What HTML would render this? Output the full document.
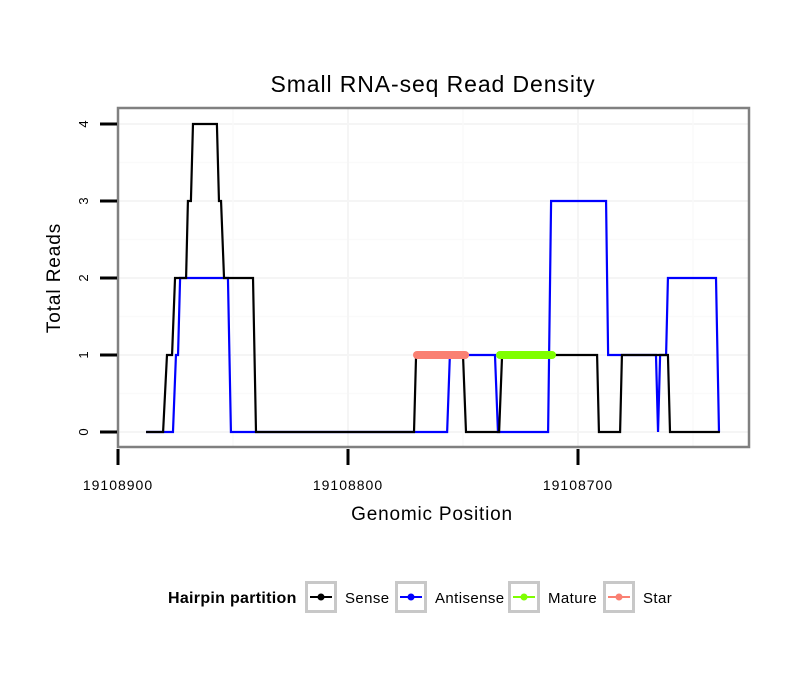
<!DOCTYPE html>
<html><head><meta charset="utf-8"><style>
body{margin:0;background:#fff}
text{font-family:"Liberation Sans",sans-serif}
</style></head><body>
<svg id="c" width="810" height="690" xmlns="http://www.w3.org/2000/svg">
<rect width="810" height="690" fill="#fff"/>
<text x="433" y="92" font-size="23" letter-spacing="0.9" text-anchor="middle">Small RNA-seq Read Density</text>
<g id="grid"></g>
<g id="plot"></g>
<rect x="118" y="108" width="631" height="339" fill="none" stroke="#808080" stroke-width="2.5"/>
<g id="axes"></g>
<text x="432" y="520" font-size="19" letter-spacing="0.8" text-anchor="middle">Genomic Position</text>
<text transform="translate(60,278) rotate(-90)" font-size="19" letter-spacing="0.9" text-anchor="middle">Total Reads</text>
<g>
<text x="168" y="603" font-size="16" font-weight="bold" letter-spacing="0.3">Hairpin partition</text>
<g id="legend"></g>
</g>
</svg>
<script>
const xTicks=[19108900,19108800,19108700];
const xTickLabels=["19108900","19108800","19108700"];
const yTicks=[0,1,2,3,4];
const senseX=[19108887.8,19108880.4,19108878.7,19108876.5,19108875.2,19108870.4,19108869.6,19108868.3,19108867.4,19108857.0,19108856.1,19108855.2,19108853.9,19108841.3,19108840.0,19108771.3,19108770.4,19108750.0,19108748.7,19108734.3,19108733.0,19108691.7,19108690.9,19108681.7,19108680.9,19108660.9,19108660.0,19108638.3];
const senseY=[0,0,1,1,2,2,3,3,4,4,3,3,2,2,0,0,1,1,0,0,1,1,0,0,1,1,0,0];
const antiX=[19108887.8,19108876.1,19108874.8,19108873.9,19108873.0,19108852.2,19108850.9,19108756.9,19108755.7,19108736.1,19108734.8,19108713.0,19108711.7,19108687.8,19108686.9,19108666.1,19108665.2,19108664.3,19108661.7,19108660.9,19108640.0,19108638.7];
const antiY=[0,0,1,1,2,2,0,0,1,1,0,0,3,3,1,1,0,1,1,2,2,0];
const starX=[19108770.0,19108749.1];const starY=[1,1];
const matureX=[19108733.9,19108711.3];const matureY=[1,1];
const legendLabels=["Sense","Antisense","Mature","Star"];
const legendColors=["#000","#0000ff","#7fff00","#fa8072"];
const NS="http://www.w3.org/2000/svg";
const X=v=>118+(19108900-v)*2.3;
const Y=v=>432-v*77;
function mk(t,a,p){const e=document.createElementNS(NS,t);for(const k in a)e.setAttribute(k,a[k]);p.appendChild(e);return e;}
const grid=document.getElementById('grid'),plot=document.getElementById('plot'),axes=document.getElementById('axes');
for(let i=0;i<yTicks.length;i++){
  const g=mk('line',{x1:118,x2:749,y1:Y(yTicks[i]),y2:Y(yTicks[i]),stroke:'#f5f5f5','stroke-width':2},grid);
  
  
  if(i<yTicks.length-1){const m=mk('line',{x1:118,x2:749,y1:Y(yTicks[i]+0.5),y2:Y(yTicks[i]+0.5),stroke:'#fafafa','stroke-width':1.5},grid);
  
  }
  const t=mk('line',{x1:100,x2:117,y1:Y(yTicks[i]),y2:Y(yTicks[i]),stroke:'#000','stroke-width':3},axes);
  
  
  const l=mk('text',{x:0,y:0,'font-size':13,'text-anchor':'middle',transform:`translate(88,${Y(yTicks[i])}) rotate(-90)`},axes);
  
  
  l.textContent=yTicks[i];
}
for(let i=0;i<xTicks.length;i++){
  const g=mk('line',{x1:X(xTicks[i]),x2:X(xTicks[i]),y1:108,y2:447,stroke:'#f5f5f5','stroke-width':2},grid);
  
  
  const m=mk('line',{x1:X(xTicks[i]-50),x2:X(xTicks[i]-50),y1:108,y2:447,stroke:'#fafafa','stroke-width':1.5},grid);
  
  
  const t=mk('line',{x1:X(xTicks[i]),x2:X(xTicks[i]),y1:449,y2:465,stroke:'#000','stroke-width':3},axes);
  
  
  const l=mk('text',{x:X(xTicks[i]),y:490,'font-size':14,'letter-spacing':1,'text-anchor':'middle'},axes);
  
  
  l.textContent=xTickLabels[i];
}
function line(xs,ys,c,w,name,cap){
  const p=mk('polyline',{points:xs.map((x,i)=>X(x)+','+Y(ys[i])).join(' '),fill:'none',stroke:c,'stroke-width':w,'stroke-linecap':cap||'butt'},plot);
  
  
}
line(antiX,antiY,'#0000ff',2.2,'antisense-line');
line(senseX,senseY,'#000',2.2,'sense-line');
line(starX,starY,'#fa8072',8,'star-segment','round');
line(matureX,matureY,'#7fff00',8,'mature-segment','round');
const lg=document.getElementById('legend');
const bx=[305,395,508,603];
for(let i=0;i<4;i++){
  const r=mk('rect',{x:bx[i]+1.5,y:582.5,width:29,height:29,fill:'#fff',stroke:'#c8c8c8','stroke-width':3},lg);
  
  
  mk('line',{x1:bx[i]+5,x2:bx[i]+27,y1:597,y2:597,stroke:legendColors[i],'stroke-width':2},lg);
  mk('circle',{cx:bx[i]+16,cy:597,r:3.5,fill:legendColors[i]},lg);
  const t=mk('text',{x:bx[i]+40,y:603,'font-size':15,'letter-spacing':0.4},lg);
  
  
  t.textContent=legendLabels[i];
}
</script>
</body></html>
